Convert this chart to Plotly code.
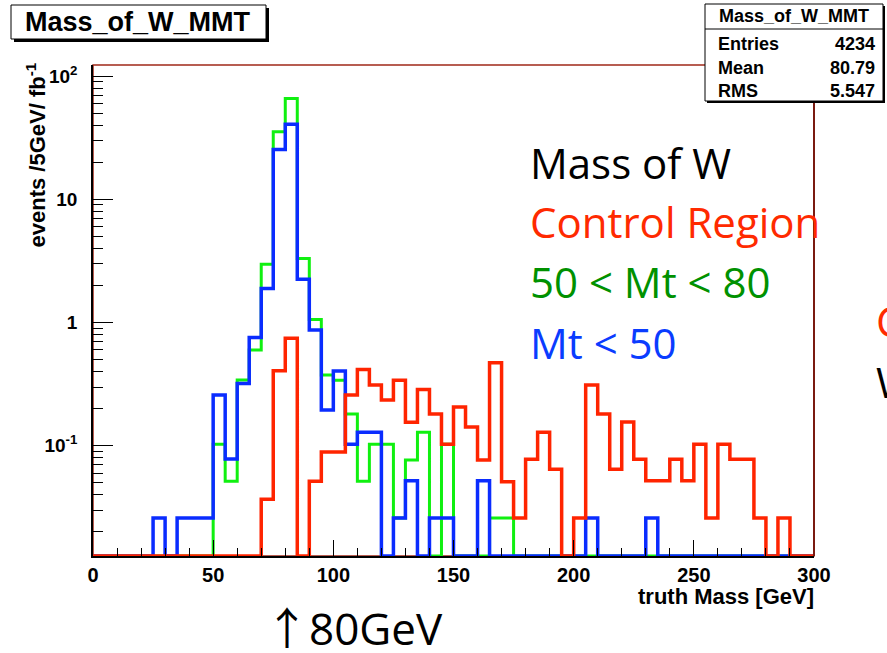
import plotly.graph_objects as go

# ---------------- data (5 GeV bins, 0-300 GeV) ----------------
bin_edges = list(range(0, 305, 5))

mt_50_80 = [0, 0, 0, 0, 0, 0, 0, 0, 0, 0,
            0.103, 0.0515, 0.342, 0.60, 2.98, 35.3, 65.8, 3.31, 1.06, 0.375,
            0.34, 0.181, 0.0515, 0.103, 0.103, 0.026, 0.0767, 0.129, 0, 0.103,
            0, 0, 0, 0.026, 0.026, 0, 0, 0, 0, 0,
            0, 0, 0, 0, 0, 0, 0, 0, 0, 0,
            0, 0, 0, 0, 0, 0, 0, 0, 0, 0]

mt_lt_50 = [0, 0, 0, 0, 0, 0.026, 0, 0.026, 0.026, 0.026,
            0.258, 0.078, 0.321, 0.758, 1.89, 25.4, 40.7, 2.25, 0.87, 0.195,
            0.404, 0.103, 0.129, 0.129, 0, 0.026, 0.052, 0, 0.026, 0.026,
            0, 0, 0.052, 0, 0, 0, 0, 0, 0, 0,
            0, 0.026, 0, 0, 0, 0, 0.026, 0, 0, 0,
            0, 0, 0, 0, 0, 0, 0, 0, 0, 0]

control_region = [0, 0, 0, 0, 0, 0, 0, 0, 0, 0,
                  0, 0, 0, 0, 0.0368, 0.407, 0.745, 0, 0.0515, 0.089,
                  0.089, 0.258, 0.417, 0.311, 0.235, 0.34, 0.155, 0.287, 0.181, 0.103,
                  0.207, 0.142, 0.0767, 0.472, 0.0512, 0.026, 0.0777, 0.129, 0.0645, 0,
                  0.026, 0.311, 0.181, 0.0645, 0.156, 0.0777, 0.052, 0.052, 0.0777, 0.052,
                  0.103, 0.026, 0.103, 0.0777, 0.0777, 0.026, 0, 0.026, 0, 0]

x_ticks = [0, 50, 100, 150, 200, 250, 300]
y_tickvals = [0.1, 1, 10, 100]
y_ticktext = ["10<sup>-1</sup>", "1", "10", "10<sup>2</sup>"]

stats_labels = ["Entries", "Mean", "RMS"]
stats_values = ["4234", "80.79", "5.547"]

# ---------------- geometry helpers ----------------
W, H = 887, 653
ML, MR, MT, MB = 93, 73, 65, 97
PW, PH = W - ML - MR, H - MT - MB
Y_LOG_MIN, Y_LOG_MAX = -1.894, 2.09
floor = 10 ** Y_LOG_MIN


def px(x):
    return (x - ML) / PW


def py(y):
    return (H - MB - y) / PH


def step(vals):
    v = [max(a, floor) for a in vals]
    return v + [v[-1]]


fig = go.Figure()
for vals, col, w in [(mt_50_80, "#10f010", 3),
                     (mt_lt_50, "#0a2cff", 3.5),
                     (control_region, "#ff2400", 3.5)]:
    fig.add_trace(go.Scatter(x=bin_edges, y=step(vals), mode="lines",
                             line=dict(shape="hv", width=w, color=col),
                             hoverinfo="skip"))

bold = dict(family="Liberation Sans, Arial, sans-serif", color="black", weight="bold")
minor_y = [m * 10 ** e for e in (-2, -1, 0, 1, 2) for m in range(2, 10)]

fig.update_layout(
    width=W, height=H, autosize=False,
    margin=dict(l=ML, r=MR, t=MT, b=MB),
    paper_bgcolor="white", plot_bgcolor="white", showlegend=False,
    xaxis=dict(range=[0, 300], showgrid=False, zeroline=False, showline=True,
               linecolor="black", linewidth=1.5, ticks="inside", ticklen=16,
               tickcolor="black", tickwidth=1, tickvals=x_ticks,
               minor=dict(ticks="inside", ticklen=8, dtick=10, tick0=0,
                          tickcolor="black", showgrid=False),
               tickfont=dict(size=20, **bold), ticklabelstandoff=0),
    yaxis=dict(type="log", range=[Y_LOG_MIN, Y_LOG_MAX], showgrid=False,
               zeroline=False, showline=True, linecolor="black", linewidth=1.5,
               ticks="inside", ticklen=20, tickcolor="black", tickwidth=1,
               tickvals=y_tickvals, ticktext=y_ticktext,
               minor=dict(ticks="inside", ticklen=10, tickvals=minor_y,
                          tickcolor="black", showgrid=False),
               tickfont=dict(size=19, **bold), ticklabelstandoff=10),
)

shapes = []
# frame
shapes.append(dict(type="rect", xref="x domain", yref="y domain", x0=0, x1=1, y0=0, y1=1,
                   line=dict(color="#a02818", width=1.5), layer="below"))
shapes.append(dict(type="line", xref="x domain", yref="y domain", x0=1, x1=1, y0=0, y1=1,
                   line=dict(color="#7a1a10", width=2), layer="above"))


def box(x0, y0, x1, y1, sh=3):
    shapes.append(dict(type="rect", xref="paper", yref="paper",
                       x0=px(x0 + sh), x1=px(x1 + sh), y0=py(y1 + sh), y1=py(y0 + sh),
                       fillcolor="black", line=dict(width=0)))
    shapes.append(dict(type="rect", xref="paper", yref="paper",
                       x0=px(x0), x1=px(x1), y0=py(y1), y1=py(y0),
                       fillcolor="white", line=dict(color="black", width=1)))


box(11, 5, 266, 39)
box(705, 4, 883, 101, sh=2)
shapes.append(dict(type="line", xref="paper", yref="paper", x0=px(705), x1=px(883),
                   y0=py(29), y1=py(29), line=dict(color="black", width=1)))
fig.update_layout(shapes=shapes)

ann = []


def text(t, x, y, size, color="black", xanchor="left", font=None, angle=0, yanchor="middle"):
    f = dict(size=size, color=color)
    if font is None:
        f["family"] = "Open Sans, sans-serif"
    else:
        f.update(font)
        f["color"] = color
        f["size"] = size
    ann.append(dict(text=t, x=px(x), y=py(y), xref="paper", yref="paper",
                    xanchor=xanchor, yanchor=yanchor, showarrow=False, font=f,
                    textangle=angle))


text("Mass_of_W_MMT", 138, 22, 27, xanchor="center", font=bold)
text("Mass_of_W_MMT", 794, 16, 18, xanchor="center", font=bold)
for i, (lab, val) in enumerate(zip(stats_labels, stats_values)):
    yy = 44 + i * 23.5
    text(lab, 716, yy, 18, font=bold)
    text(val, 877, yy, 18, xanchor="right", font=bold)

text("truth Mass [GeV]", 816, 597, 22, xanchor="right", font=bold)
text("events /5GeV/ fb<sup>-1</sup>", 36, 60, 22, font=bold, angle=-90,
     xanchor="center", yanchor="top")

text("Mass of W", 528, 163, 42)
text("Control Region", 528, 222, 42, color="#ff2a00")
text("50 < Mt < 80", 528, 281, 42, color="#009100")
text("Mt < 50", 528, 342, 42, color="#0a3cff")
text("C", 874, 320, 42, color="#ff2a00")
text("W", 874, 381, 42)
text('<span style="font-family:\'Noto Sans CJK JP\'">↑</span>80GeV', 263, 626, 44)

fig.update_layout(annotations=ann)
fig.write_html("out.html")
